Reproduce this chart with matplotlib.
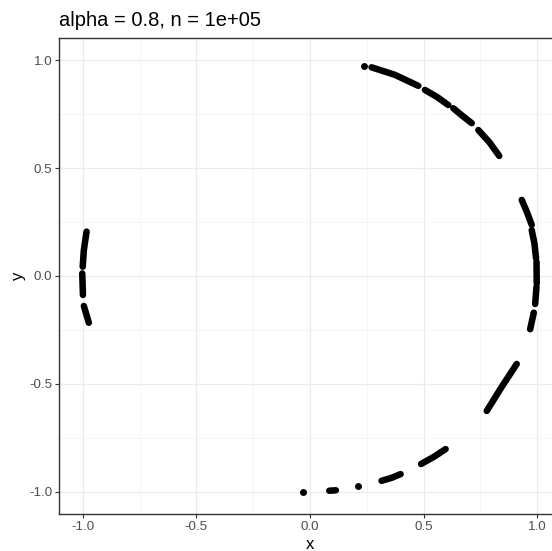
import matplotlib.pyplot as plt
import numpy as np

plt.rcParams['font.family'] = ['Liberation Sans', 'DejaVu Sans']

# arcs of points (x, y), one list per visible run
arcs_x = [
    [0.271, 0.374, 0.477],
    [0.506, 0.560, 0.609],
    [0.631, 0.672, 0.712],
    [0.741, 0.790, 0.833],
    [0.932, 0.955, 0.976],
    [0.976, 0.988, 0.995],
    [0.997, 0.998],
    [0.997, 0.991],
    [0.985, 0.969],
    [0.085, 0.114],
    [0.315, 0.360, 0.399],
    [0.489, 0.545, 0.597],
    [0.778, 0.844, 0.910],
    [-0.983, -0.995, -1.000],
    [-1.002, -0.999],
    [-0.995, -0.973],
]
arcs_y = [
    [0.968, 0.933, 0.882],
    [0.863, 0.830, 0.793],
    [0.778, 0.742, 0.709],
    [0.677, 0.620, 0.557],
    [0.353, 0.296, 0.237],
    [0.213, 0.150, 0.082],
    [0.066, -0.034],
    [-0.050, -0.130],
    [-0.170, -0.247],
    [-0.996, -0.994],
    [-0.950, -0.936, -0.919],
    [-0.872, -0.839, -0.803],
    [-0.626, -0.514, -0.408],
    [0.206, 0.120, 0.043],
    [0.012, -0.088],
    [-0.139, -0.217],
]
# single dots
dots_x = [0.238, -0.029, 0.210]
dots_y = [0.974, -1.000, -0.975]

title = 'alpha = 0.8, n = 1e+05'
ticks = [-1.0, -0.5, 0.0, 0.5, 1.0]
minor = [-0.75, -0.25, 0.25, 0.75]

W, H = 552, 551
fig = plt.figure(figsize=(W / 100, H / 100), dpi=100)
ax = fig.add_axes([59.3 / W, 1 - 514 / H, 501.3 / W, 476 / H])

for xs, ys in zip(arcs_x, arcs_y):
    ax.plot(xs, ys, color='black', lw=4.7, solid_capstyle='round', zorder=3)
ax.scatter(dots_x, dots_y, s=25, color='black', linewidths=0, zorder=3)

ax.set_xlim(-1.103, 1.103)
ax.set_ylim(-1.104, 1.104)
ax.set_xticks(ticks)
ax.set_yticks(ticks)
ax.set_xticks(minor, minor=True)
ax.set_yticks(minor, minor=True)
ax.set_xticklabels(['-1.0', '-0.5', '0.0', '0.5', '1.0'])
ax.set_yticklabels(['-1.0', '-0.5', '0.0', '0.5', '1.0'])
ax.grid(which='major', color='#EBEBEB', lw=0.9)
ax.grid(which='minor', color='#F2F2F2', lw=0.5)
ax.set_axisbelow(True)
ax.tick_params(which='major', length=2.7, width=0.8, color='#333333',
               labelcolor='#4D4D4D', labelsize=9.6, pad=2.2)
ax.tick_params(which='minor', length=0)
for sp in ax.spines.values():
    sp.set_color('#333333')
    sp.set_linewidth(1.0)

fig.text(59.3 / W, 1 - 26 / H, title, fontsize=14.5, va='baseline', ha='left')
fig.text(310 / W, 1 - 549 / H, 'x', fontsize=12, va='baseline', ha='center')
fig.text(18 / W, 1 - 276 / H, 'y', fontsize=12, va='center', ha='center',
         rotation=90)

fig.savefig('out.png', dpi=100)
